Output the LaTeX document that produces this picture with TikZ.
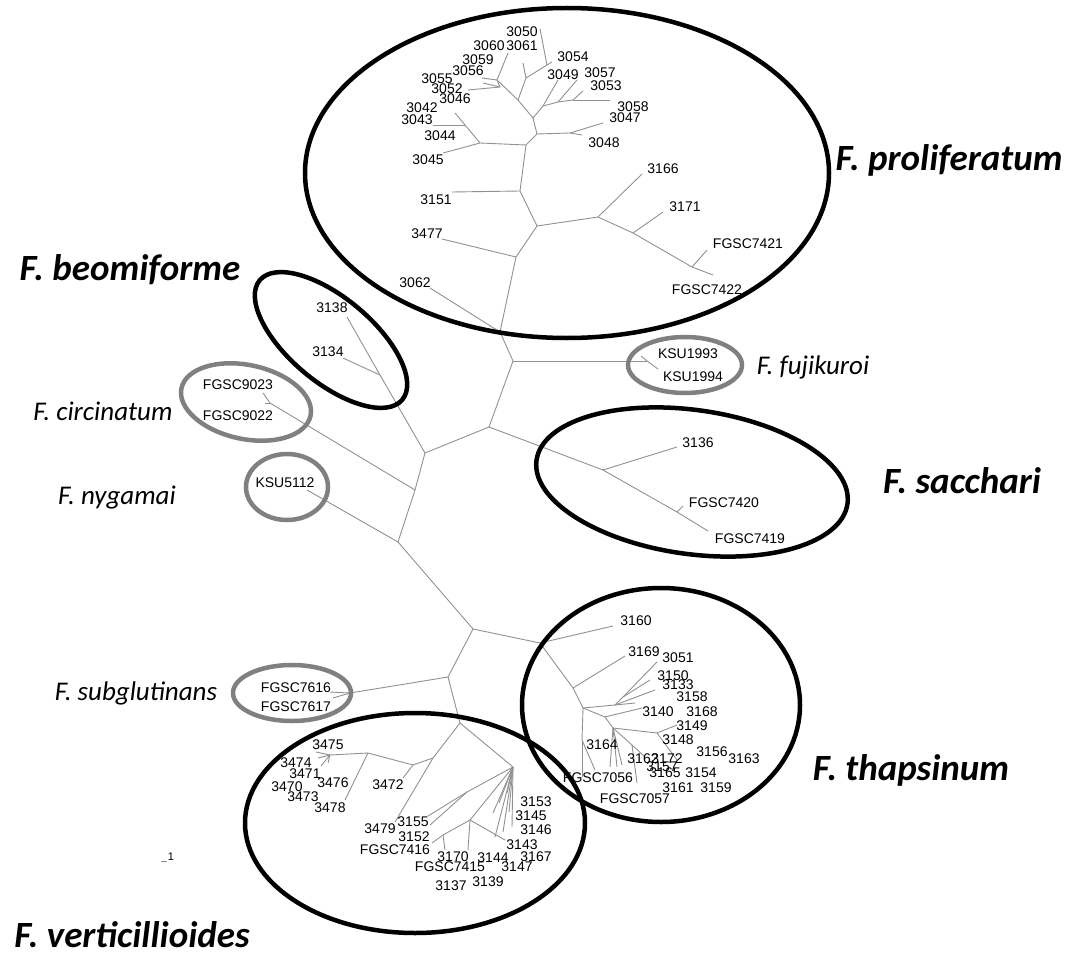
\documentclass[tikz,border=0pt]{standalone}
\usepackage{fontspec}
\setmainfont{Liberation Sans}
\newfontfamily\spfont{Carlito}
\usetikzlibrary{positioning}
\definecolor{treegray}{RGB}{145,145,145}
\definecolor{ringgray}{RGB}{128,128,128}
\tikzset{
  branch/.style={draw=treegray, line width=0.9pt},
  leaf/.style={font=\fontsize{14}{16}\selectfont, inner sep=0pt},
  clade/.style={draw=black, line width=4.5pt},
  ring/.style={draw=ringgray, line width=4.5pt},
  bigname/.style={font=\spfont\bfseries\itshape\fontsize{37}{40}\selectfont, inner sep=0pt},
  smallname/.style={font=\spfont\itshape\fontsize{27}{30}\selectfont, inner sep=0pt}
}
\begin{document}
\begin{tikzpicture}[x=1pt, y=-1pt]
    \useasboundingbox (0,0) rectangle (1071,955);

    % Inner nodes of the tree
    \foreach \n/\x/\y in {pA/526/145, pB/480/143, pB2/465/125, pC/537/134, pD/570/133, pE/533/118,
        pG/543/106, pH/558/102, pH2/573/100, pI/518/100, pF/526/78, pJ/547/65,
        pK/497/80, pL/500/87, pM/520/191, pN/537/226, pO/598/217, pP/633/233,
        pQ/692/267, pR/516/257, pS/500/332, rT/513/361, fU/647/361,
        sV/489/427, sW/603/470, sY/677/512, bX/425/453, bY/380/375,
        cZ/415/490, cW/270/403, nA/398/542, mB/473/629, gC/448/677, gS/350/693,
        vD/460/723, vE/513/767, vF/433/758, vG/413/765, vH/368/753, vI/330/755,
        vJ/467/792, vK/470/820, vL/443/835,
        tK/540/643, tL/573/688, tM/583/708, tN/615/705, tN1/623/697,
        tO/605/717, tP/613/728, tQ/657/733, tR/582/740, tS/632/745} {
        \coordinate (\n) at (\x,\y);
    }

    % Leaf tips
    \foreach \n/\x/\y in {e3045/443/153, e3042/455/113, e3043/433/125, e3048/582/135, e3047/603/123,
        e3058/610/100, e3053/583/91, e3057/577/80, e3049/558/80, eF0/523/63,
        e3054/552/62, e3050/540/29, e3061/508/53, e3056/482/78, e3055/483/83,
        e3046/468/90, e3151/452/192, e3166/642/174, e3171/663/212, e7421/707/250,
        e7422/713/275, e3477/442/239, e3062/430/288, e1993/641/356, e1994/658/369,
        e3136/677/447, e7419/708/531, e7420/683/506, e3138/347/317, e3134/343/358,
        e9023/263/393, e9022/265/403, e5112/307/490, e7616/330/692, e7617/333/698,
        e3472/403/778, e3478/345/800, eI1/316/752, eI2/328/763, eI3/321/766, eI4/318/758,
        e3479/395/822, e3155/428/816, e3152/430/825, e7416/432/843, e3170/445/850,
        e3144/468/850, e3143/505/840, eE1/493/813, eE2/495/837, eE3/499/803,
        eE4/503/832, eE5/507/793, eE6/512/827, eE7/509/812,
        e3160/613/626, e3169/625/656, e3051/657/662, e3150/650/680, e3133/655/690,
        e3158/635/703, e3140/642/708, e3149/677/725, e3154/677/760, e3162/645/757,
        e7057/637/783, e7056/595/770, eR2/582/777, eT1/610/767, eT2/617/767, eT3/622/765} {
        \coordinate (\n) at (\x,\y);
    }

    % Branches
    \foreach \a/\b in {pA/pB, pB/e3045, pB/pB2, pB2/e3042, pB2/e3043,
        pA/pC, pC/pD, pD/e3048, pD/e3047,
        pC/pE, pE/pG, pG/pH, pH/pH2, pH2/e3058, pH2/e3053, pH/e3057, pG/e3049,
        pE/pI, pI/pF, pF/eF0, pF/pJ, pJ/e3054, pJ/e3050,
        pI/pK, pK/e3061, pK/e3056, pK/pL, pL/e3055, pL/e3046,
        pA/pM, pM/e3151, pM/pN, pN/pO, pO/e3166, pO/pP, pP/e3171, pP/pQ, pQ/e7421, pQ/e7422,
        pN/pR, pR/e3477, pR/pS, pS/e3062, pS/rT,
        rT/fU, fU/e1993, fU/e1994,
        rT/sV, sV/sW, sW/e3136, sW/sY, sY/e7419, sY/e7420,
        sV/bX, bX/bY, bY/e3138, bY/e3134,
        bX/cZ, cZ/cW, cW/e9023, cW/e9022,
        cZ/nA, nA/e5112, nA/mB,
        mB/gC, gC/gS, gS/e7616, gS/e7617,
        gC/vD, vD/vF, vF/vG, vG/e3472, vG/vH, vH/e3478, vH/vI,
        vI/eI1, vI/eI2, vI/eI3, vI/eI4, vF/e3479,
        vD/vE, vE/vJ, vJ/e3155, vJ/e3152, vE/vK, vK/vL, vL/e7416, vL/e3170, vK/e3144, vK/e3143,
        vE/eE1, vE/eE2, vE/eE3, vE/eE4, vE/eE5, vE/eE6, vE/eE7,
        mB/tK, tK/e3160, tK/tL, tL/e3169, tL/tM, tM/tN, tN/tN1, tN1/e3051, tN1/e3150,
        tN/e3133, tN/e3158, tM/tO, tO/e3140, tO/tP, tP/tQ, tQ/e3149, tQ/e3154,
        tP/tS, tS/e3162, tS/e7057, tP/eT1, tP/eT2, tP/eT3,
        tM/tR, tR/eR2, tR/e7056} {
        \draw[branch] (\a) -- (\b);
    }

    % Clade rings
    \draw[clade] (567,173) ellipse [x radius=262, y radius=165];
    \draw[clade, rotate around={-40:(331,340)}] (331,340) ellipse [x radius=93, y radius=42];
    \draw[ring, rotate around={-12:(246,402)}] (246,402) ellipse [x radius=66, y radius=37];
    \draw[ring] (287,487) ellipse [x radius=41, y radius=33];
    \draw[ring] (685,365) ellipse [x radius=57, y radius=28];
    \draw[clade, rotate around={-8:(692,482)}] (692,482) ellipse [x radius=157, y radius=72];
    \draw[ring] (292,693) ellipse [x radius=59, y radius=28];
    \draw[clade] (661,705) ellipse [x radius=139, y radius=117];
    \draw[clade] (415,823) ellipse [x radius=170, y radius=110];

    % Strain labels
    \foreach \t/\x/\y in {3050/522/32, 3060/489/46, 3061/522/46, 3059/478/60, 3056/468/71,
        3055/437/79, 3052/447/89, 3046/455/99, 3042/422/108, 3043/417/120, 3044/440/136,
        3045/428/160, 3054/573/57, 3049/563/75, 3057/600/73, 3053/606/86, 3058/633/107,
        3047/625/118, 3048/604/143, 3166/663/169, 3151/436/200, 3171/685/207, 3477/427/234,
        FGSC7421/748/244, 3062/415/283, FGSC7422/707/290,
        KSU1993/688/354, KSU1994/693/377, 3136/698/443, FGSC7420/724/503, FGSC7419/750/539,
        3138/332/308, 3134/328/352, FGSC9023/238/385, FGSC9022/238/416, KSU5112/285/483,
        FGSC7616/296/688, FGSC7617/296/707,
        3475/328/745, 3474/296/763, 3471/305/774, 3476/333/783, 3470/287/787, 3473/303/797,
        3478/330/808, 3472/388/785, 3479/380/829, 3155/413/822, 3152/414/837, FGSC7416/395/850,
        3153/536/802, 3145/531/816, 3146/536/830, 3143/522/845, 3167/536/857, 3147/517/867,
        3144/493/858, 3170/453/857, FGSC7415/450/867, 3139/488/882, 3137/451/886,
        3160/636/621, 3169/644/652, 3051/678/658, 3150/673/676, 3133/678/685, 3158/692/697,
        3140/658/712, 3168/702/712, 3149/692/726, 3148/678/740, 3164/602/745, 3156/712/752,
        3163/744/759, 3162/643/759, 3172/667/759, 3157/662/767, 3165/665/773, 3154/701/773,
        FGSC7056/598/778, 3161/678/788, 3159/716/788, FGSC7057/635/799} {
        \node[leaf] (l\t) at (\x,\y) {\t};
    }

    % Species names
    \node[bigname] (nprol) at (949,160) {F. proliferatum};
    \node[bigname] (nbeom) at (130,270) {F. beomiforme};
    \node[smallname] (nfuji) at (813,367) {F. fujikuroi};
    \node[smallname] (ncirc) at (103,411) {F. circinatum};
    \node[bigname] (nsacc) at (962,481) {F. sacchari};
    \node[smallname] (nnyga) at (117,498) {F. nygamai};
    \node[smallname] (nsubg) at (136,693) {F. subglutinans};
    \node[bigname] (nthap) at (911,770) {F. thapsinum};
    \node[bigname] (nvert) at (132,935) {F. verticillioides};

    % Scale
    \node[leaf, font=\fontsize{11}{12}\selectfont] (scale) at (171,857) {1};
    \draw[branch] (scale.south west) ++(-1,0) coordinate (sc) -- ++(-6,0);
\end{tikzpicture}
\end{document}
